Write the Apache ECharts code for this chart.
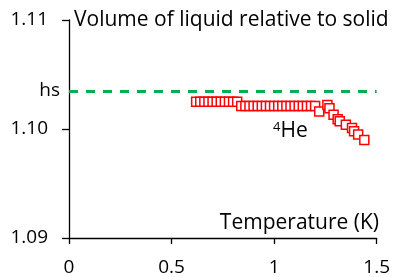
<!DOCTYPE html>
<html>
<head>
<meta charset="utf-8">
<script src="https://cdn.jsdelivr.net/npm/echarts@6/dist/echarts.min.js"></script>
<style>
  html, body { margin: 0; padding: 0; background: #fff; }
  #chart-container { width: 393px; height: 277px; }
</style>
</head>
<body>
<div id="chart-container"></div>
<script>
// temperature (K) and relative volume of liquid 4He
var temps = [0.62, 0.64, 0.66, 0.68, 0.70, 0.72, 0.74, 0.76, 0.78, 0.80, 0.82,
  0.84, 0.86, 0.88, 0.90, 0.92, 0.94, 0.96, 0.98, 1.00, 1.02, 1.04, 1.06, 1.08,
  1.10, 1.12, 1.14, 1.16, 1.18, 1.20,
  1.22, 1.26, 1.27, 1.29, 1.31, 1.32, 1.35, 1.38, 1.39, 1.41, 1.44];
var volumes = [1.1025, 1.1025, 1.1025, 1.1025, 1.1025, 1.1025, 1.1025, 1.1025, 1.1025, 1.1025, 1.1025,
  1.1021, 1.1021, 1.1021, 1.1021, 1.1021, 1.1021, 1.1021, 1.1021, 1.1021, 1.1021, 1.1021, 1.1021, 1.1021,
  1.1021, 1.1021, 1.1021, 1.1021, 1.1021, 1.1021,
  1.1016, 1.1022, 1.1019, 1.1013, 1.1009, 1.1007, 1.1004, 1.1001, 1.0998, 1.0995, 1.0990];
var hsLevel = 1.1035;
var xTicks = [0, 0.5, 1, 1.5];
var yTicks = [1.09, 1.10, 1.11];

var font = "Open Sans";
var dom = document.getElementById("chart-container");
var myChart = echarts.init(dom, null, { renderer: "canvas" });

var points = temps.map(function (t, i) { return [t, volumes[i]]; });

var option = {
  animation: false,
  grid: { left: 69, right: 14, top: 20, bottom: 37 },
  xAxis: {
    type: "value",
    min: xTicks[0],
    max: xTicks[xTicks.length - 1],
    interval: 0.5,
    splitLine: { show: false },
    axisLine: { lineStyle: { color: "#000", width: 1.3 } },
    axisTick: { show: true, length: 6, lineStyle: { color: "#000", width: 1.3 } },
    axisLabel: { color: "#000", fontFamily: font, fontSize: 19, margin: 20 }
  },
  yAxis: {
    type: "value",
    min: yTicks[0],
    max: yTicks[yTicks.length - 1],
    interval: 0.01,
    splitLine: { show: false },
    axisLine: { show: true, lineStyle: { color: "#000", width: 1.3 } },
    axisTick: { show: true, length: 7, lineStyle: { color: "#000", width: 1.3 } },
    axisLabel: {
      color: "#000", fontFamily: font, fontSize: 19, margin: 21,
      formatter: function (v) { return v.toFixed(2); }
    }
  },
  series: [
    {
      type: "scatter",
      data: points,
      symbol: "rect",
      symbolSize: 9,
      itemStyle: { color: "#fff", borderColor: "#ff0000", borderWidth: 1.5, opacity: 1 },
      markLine: {
        silent: true,
        symbol: "none",
        precision: 4,
        data: [{ yAxis: hsLevel }],
        lineStyle: { color: "#00b050", type: [9, 8], width: 3 },
        label: {
          position: "start", formatter: "hs", distance: 9,
          color: "#000", fontFamily: font, fontSize: 19
        }
      }
    }
  ],
  graphic: {
    elements: [
      {
        type: "text", left: 74, top: 10,
        style: { text: "Volume of liquid relative to solid", fontFamily: font, fontSize: 21, fill: "#000" }
      },
      {
        type: "text", right: 14, top: 213,
        style: { text: "Temperature (K)", fontFamily: font, fontSize: 21, fill: "#000" }
      },
      {
        type: "text", left: 273, top: 121,
        style: {
          text: "{sup|4}{b|He}",
          fill: "#000",
          rich: {
            sup: { fontFamily: font, fontSize: 13, verticalAlign: "top", fill: "#000" },
            b: { fontFamily: font, fontSize: 21, fill: "#000" }
          }
        }
      }
    ]
  }
};

myChart.setOption(option);
window.addEventListener("resize", myChart.resize);
</script>
</body>
</html>
